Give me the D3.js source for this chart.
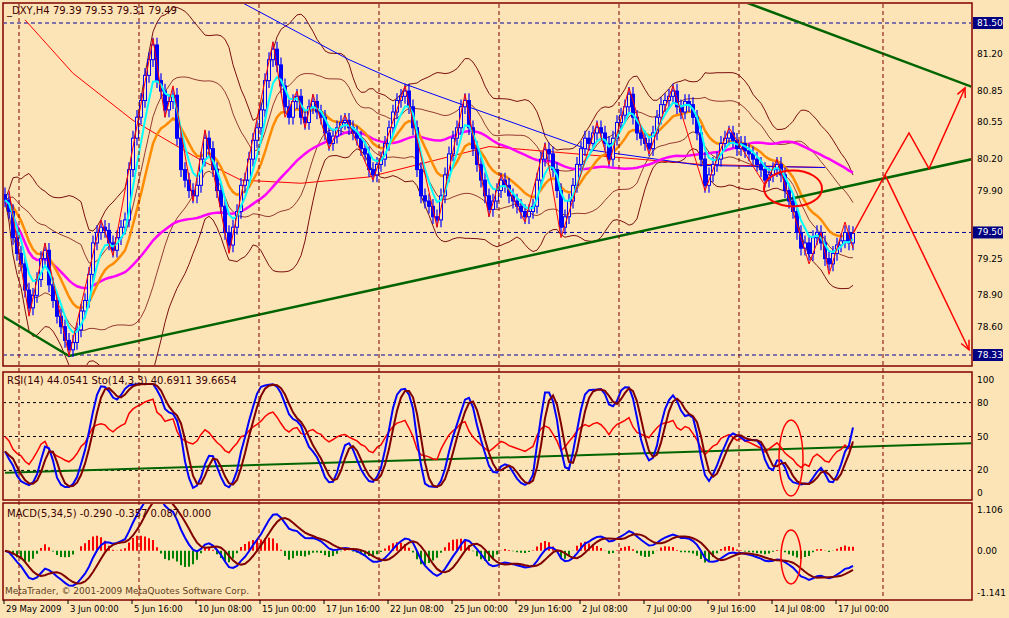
<!DOCTYPE html>
<html><head><meta charset="utf-8">
<script src="https://cdn.jsdelivr.net/npm/d3@7/dist/d3.min.js"></script>
<style>body{margin:0;background:#fde4b6;}svg text{font-family:"DejaVu Sans",Verdana,sans-serif;}</style>
</head><body><svg id="c" width="1009" height="618"></svg>
<script>
const closes=[79.81,79.70,79.45,79.30,79.20,78.95,78.78,78.90,79.05,79.25,79.33,79.00,78.85,78.70,78.60,78.47,78.38,78.45,78.57,78.75,
78.85,79.10,79.40,79.50,79.55,79.52,79.40,79.33,79.45,79.55,79.62,80.10,80.40,80.60,80.76,81.00,81.15,81.29,80.95,80.85,
80.67,80.75,80.81,80.40,80.10,80.00,79.90,79.85,79.95,80.20,80.40,80.30,80.10,79.90,79.75,79.50,79.38,79.55,79.70,79.95,
80.00,80.20,80.38,80.50,80.67,80.95,81.15,81.25,81.10,80.90,80.70,80.60,80.75,80.80,80.60,80.55,80.70,80.75,80.65,80.60,
80.45,80.35,80.42,80.50,80.55,80.57,80.50,80.45,80.40,80.30,80.25,80.10,80.05,80.15,80.20,80.35,80.50,80.65,80.76,80.80,
80.85,80.70,80.50,80.10,79.85,79.80,79.75,79.65,79.62,79.85,80.05,80.25,80.40,80.50,80.70,80.76,80.50,80.30,80.15,80.00,
79.85,79.72,79.80,79.90,80.00,79.95,79.85,79.80,79.75,79.70,79.65,79.70,79.75,80.00,80.20,80.29,80.25,80.10,79.90,79.55,
79.65,79.80,79.95,80.15,80.30,80.40,80.35,80.45,80.50,80.45,80.35,80.20,80.40,80.55,80.62,80.70,80.82,80.60,80.45,80.40,
80.35,80.30,80.45,80.60,80.72,80.76,80.80,80.85,80.70,80.65,80.75,80.72,80.60,80.45,80.20,79.95,80.05,80.15,80.20,80.35,
80.40,80.45,80.38,80.30,80.35,80.28,80.25,80.20,80.15,80.10,80.00,80.05,80.10,80.15,80.05,79.90,79.80,79.70,79.50,79.35,
79.40,79.30,79.45,79.50,79.40,79.25,79.20,79.30,79.38,79.42,79.50,79.40,79.49];
const wick=0.07;
const zigzag=[[1,79.9],[6,78.7],[10,79.4],[16,78.32],[24,79.62],[27,79.28],[37,81.35],[40,80.6],[42,80.9],[47,79.8],[50,80.48],[56,79.3],[67,81.32],[70,80.6],[73,80.85],[75,80.5],[77,80.82],[81,80.3],[85,80.62],[92,80.0],[100,80.9],[108,79.55],[115,80.82],[121,79.65],[124,80.05],[130,79.6],[135,80.35],[139,79.45],[148,80.55],[151,80.15],[156,80.88],[161,80.25],[167,80.9],[175,79.9],[181,80.5],[190,79.95],[193,80.2],[201,79.2],[204,79.5],[206,79.1],[210,79.6],[212,79.35]];
const longMA=[[5,81.53],[17,81.02],[32,80.57],[49,80.19],[59,80.0],[74,79.97],[91,80.03],[121,80.32],[146,80.24],[174,80.15],[205,80.12]];
const blueLine=[[59.5,81.69],[86,81.15],[99,80.93],[118,80.67],[146,80.29],[174,80.14],[205,80.12]];
const greenMain=[[-0.5,78.70],[16,78.32],[241.75,80.20]];
const greenTop=[[185,81.70],[241.75,80.89]];
const arrowUp=[[212,79.49],[220,80.05],[226,80.45],[231,80.11],[240,80.88]];
const arrowDown=[[220,80.05],[241,78.38]];
const rsiTrend=[[0,18],[241.75,44]];
const dateLabels=["29 May 2009","3 Jun 00:00","5 Jun 16:00","10 Jun 08:00","15 Jun 00:00","17 Jun 16:00","22 Jun 08:00","25 Jun 00:00","29 Jun 16:00","2 Jul 08:00","7 Jul 00:00","9 Jul 16:00","14 Jul 08:00","17 Jul 00:00"];
const separators=[3.5,33.5,63.5,93.5,123.5,153.5,183.5,219.5];
const priceTicks=[81.20,80.85,80.55,80.20,79.90,79.25,78.90,78.60];
const boxedPrices=[81.50,79.50,78.33];
const rsiTicks=[100,80,50,20,0];
const macdTicks=[1.106,0.00,-1.141];

const svg=d3.select("#c");
const L=3,R=972;
const x=d3.scaleLinear().domain([0,1]).range([5,9]);
const y=d3.scaleLinear().domain([78.33,81.50]).range([355,23]);
const yr=d3.scaleLinear().domain([0,100]).range([493,380]);
const ym=d3.scaleLinear().domain([-1.141,1.106]).range([593,510]);
const n=closes.length;
const opens=closes.map((c,i)=>i?closes[i-1]:c+0.05);
const highs=closes.map((c,i)=>Math.max(c,opens[i])+wick);
const lows=closes.map((c,i)=>Math.min(c,opens[i])-wick);
const sma=(a,p)=>a.map((v,i)=>{const s=a.slice(Math.max(0,i-p+1),i+1);return d3.mean(s);});
const ema=(a,p)=>{const k=2/(p+1);let r=[];a.forEach((v,i)=>r.push(i?r[i-1]+k*(v-r[i-1]):v));return r;};
const cyan=ema(closes,5),orange=ema(closes,13),mag=sma(closes,55);
const bbm=sma(closes,20);
const bbs=closes.map((v,i)=>d3.deviation(closes.slice(Math.max(0,i-19),i+1))||0);
let ag=0.05,al=0.05;const rsi=closes.map((c,i)=>{if(!i)return 50;const d=c-closes[i-1];ag=(ag*13+Math.max(d,0))/14;al=(al*13+Math.max(-d,0))/14;return 100-100/(1+ag/al);});
const raw=closes.map((c,i)=>{const h=d3.max(highs.slice(Math.max(0,i-13),i+1)),l=d3.min(lows.slice(Math.max(0,i-13),i+1));return 100*(c-l)/(h-l);});
const K=sma(raw,3),D=sma(K,3);
const e5=ema(closes,5),e34=ema(closes,34);
const macd=e5.map((v,i)=>(v-e34[i])*1.4),sig=sma(macd,5),hist=macd.map((v,i)=>v-sig[i]);

const bg="#fde4b6",frame="#800000";
svg.append("rect").attr("width",1009).attr("height",618).attr("fill",bg);
const panels=[[3,366],[372,500],[503,600]];
panels.forEach(p=>svg.append("rect").attr("x",L).attr("y",p[0]).attr("width",R-L).attr("height",p[1]-p[0]).attr("fill","none").attr("stroke",frame).attr("stroke-width",1.5));
const clip=(id,p)=>svg.append("clipPath").attr("id",id).append("rect").attr("x",L+1).attr("y",p[0]+1).attr("width",R-L-2).attr("height",p[1]-p[0]-2);
clip("c1",panels[0]);clip("c2",panels[1]);clip("c3",panels[2]);
const g1=svg.append("g").attr("clip-path","url(#c1)"),g2=svg.append("g").attr("clip-path","url(#c2)"),g3=svg.append("g").attr("clip-path","url(#c3)");
separators.forEach(s=>svg.append("line").attr("x1",x(s)).attr("x2",x(s)).attr("y1",4).attr("y2",599).attr("stroke",frame).attr("stroke-dasharray","4,3"));
boxedPrices.forEach(p=>g1.append("line").attr("x1",L).attr("x2",R).attr("y1",y(p)).attr("y2",y(p)).attr("stroke","#0000a0").attr("stroke-dasharray","4,3"));
[80,50,20].forEach(v=>g2.append("line").attr("x1",L).attr("x2",R).attr("y1",yr(v)).attr("y2",yr(v)).attr("stroke","#000").attr("stroke-dasharray","3,3"));
const line=(g,data,col,w,yy)=>g.append("path").attr("d",d3.line().x(d=>x(d[0])).y(d=>yy(d[1]))(data)).attr("fill","none").attr("stroke",col).attr("stroke-width",w);
const ser=a=>a.map((v,i)=>[i,v]);
line(g1,ser(bbm.map((m,i)=>m+2*bbs[i])),"#7a1010",1,y);
line(g1,ser(bbm.map((m,i)=>m-2*bbs[i])),"#7a1010",1,y);
line(g1,ser(bbm.map((m,i)=>m+bbs[i])),"#7a1010",0.8,y);
line(g1,ser(bbm.map((m,i)=>m-bbs[i])),"#7a1010",0.8,y);
line(g1,longMA,"#ff0000",1,y);
line(g1,blueLine,"#0000ff",1,y);
line(g1,ser(mag),"#ff00ff",2.5,y);
line(g1,ser(orange),"#ff8c00",2.5,y);
line(g1,greenMain,"#006400",2.5,y);
line(g1,greenTop,"#006400",2.5,y);
closes.forEach((c,i)=>{const o=opens[i],cx=x(i);
 g1.append("line").attr("x1",cx).attr("x2",cx).attr("y1",y(highs[i])).attr("y2",y(lows[i])).attr("stroke","#0000ff").attr("stroke-width",1.2);
 const t=y(Math.max(o,c)),b=y(Math.min(o,c));
 g1.append("rect").attr("x",cx-1.5).attr("y",t).attr("width",3).attr("height",Math.max(1,b-t)).attr("fill",c>=o?bg:"#0000ff").attr("stroke","#0000ff").attr("stroke-width",1);
});
line(g1,ser(cyan),"#00ffff",2,y);
line(g1,zigzag,"#ff0000",1,y);
line(g1,arrowUp,"#ff0000",1.5,y);
line(g1,arrowDown,"#ff0000",1.5,y);
const head=(a,b)=>{const x1=x(a[0]),y1=y(a[1]),x2=x(b[0]),y2=y(b[1]);const ang=Math.atan2(y2-y1,x2-x1);const s=10;
 g1.append("path").attr("d",`M${x2-s*Math.cos(ang-0.45)},${y2-s*Math.sin(ang-0.45)}L${x2},${y2}L${x2-s*Math.cos(ang+0.45)},${y2-s*Math.sin(ang+0.45)}`).attr("fill","none").attr("stroke","#ff0000").attr("stroke-width",1.5);};
head(arrowUp[3],arrowUp[4]);head(arrowDown[0],arrowDown[1]);
g1.append("ellipse").attr("cx",x(197)).attr("cy",y(79.92)).attr("rx",29).attr("ry",18).attr("fill","none").attr("stroke","#ff0000").attr("stroke-width",2);
line(g2,rsiTrend,"#006400",2,yr);
line(g2,ser(rsi),"#ff0000",1.5,yr);
line(g2,ser(K),"#0000ff",2,yr);
line(g2,ser(D),"#800000",2,yr);
g2.append("ellipse").attr("cx",x(196.5)).attr("cy",458).attr("rx",12).attr("ry",38).attr("fill","none").attr("stroke","#ff0000").attr("stroke-width",1.5);
hist.forEach((h,i)=>g3.append("line").attr("x1",x(i)).attr("x2",x(i)).attr("y1",ym(0)).attr("y2",ym(h)).attr("stroke",h>=0?"#ff0000":"#008000").attr("stroke-width",2));
line(g3,ser(macd),"#0000ff",2,ym);
line(g3,ser(sig),"#800000",2,ym);
g3.append("ellipse").attr("cx",x(196.5)).attr("cy",557).attr("rx",10).attr("ry",27).attr("fill","none").attr("stroke","#ff0000").attr("stroke-width",1.5);
const txt=(t,xx,yy,o={})=>svg.append("text").attr("x",xx).attr("y",yy).attr("font-size",o.s||9).attr("fill",o.c||"#000").attr("text-anchor",o.a||"start").text(t);
priceTicks.forEach(p=>txt(p.toFixed(2),977,y(p)+3));
boxedPrices.forEach(p=>{svg.append("rect").attr("x",973).attr("y",y(p)-6).attr("width",30).attr("height",12).attr("fill","#000080");txt(p.toFixed(2),977,y(p)+3,{c:"#fff"});});
rsiTicks.forEach(v=>txt(v,977,yr(v)+3));
macdTicks.forEach(v=>txt(v.toFixed(v?3:2),977,ym(v)+3));
dateLabels.forEach((d,k)=>{const xx=x(16*k)-1;svg.append("line").attr("x1",xx).attr("x2",xx).attr("y1",600).attr("y2",604).attr("stroke","#000");txt(d,xx+2,612,{s:8.5});});
txt("_DXY,H4  79.39 79.53 79.31 79.49",7,14,{s:10,c:"#400000"});
txt("RSI(14) 44.0541  Sto(14,3,3) 40.6911 39.6654",7,384,{s:10,c:"#400000"});
txt("MACD(5,34,5) -0.290 -0.357 0.087 0.000",7,517,{s:10,c:"#400000"});
txt("MetaTrader, © 2001-2009 MetaQuotes Software Corp.",5,594,{s:9,c:"#604020"});
</script></body></html>
